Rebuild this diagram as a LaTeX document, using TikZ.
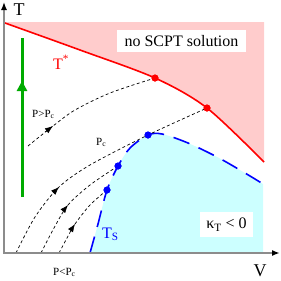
\documentclass[tikz,border=0pt]{standalone}
\usepackage{fontspec}
\setmainfont{Liberation Serif}
\usetikzlibrary{arrows.meta}
\definecolor{pinkfill}{rgb}{1,0.8,0.8}
\definecolor{cyanfill}{rgb}{0.8,1,1}
\definecolor{grn}{rgb}{0,0.67,0}
\definecolor{axisgray}{gray}{0.55}
\begin{document}
\begin{tikzpicture}[x=1pt,y=-1pt,
  axisline/.style={draw=axisgray, -{Latex[length=8pt,width=6pt,color=black]}},
  tstar/.style={draw=red, line width=1.6pt},
  tsline/.style={draw=blue, line width=1.6pt, dash pattern=on 17pt off 10pt},
  flow/.style={draw=black, line width=0.7pt, dash pattern=on 3pt off 2.5pt},
  flowtip/.style={draw=black, line width=0.6pt, -{Latex[length=8pt,width=6pt]}},
  reddot/.style={circle, fill=red, inner sep=0pt, minimum size=7pt},
  bluedot/.style={circle, fill=blue, inner sep=0pt, minimum size=7pt},
  lab/.style={inner sep=0pt, anchor=base west},
  boxlab/.style={fill=white, inner sep=0pt, font=\fontsize{16}{16}\selectfont}]
\useasboundingbox (0,0) rectangle (281,281);

% regions
\fill[pinkfill] (4,22) -- (264,22) -- (264,162)
  -- plot[smooth] coordinates {(264,162) (207,108) (155,78) (80,50) (5,23)} -- cycle;
\fill[cyanfill] plot[smooth] coordinates {(90,253) (98,224) (107,190) (118,166) (130,148) (148,135) (162,134) (188,143) (219,158) (250,176) (263,184)}
  -- (263,253) -- cycle;

% dots
\node[reddot] (r1) at (155,78) {};
\node[reddot] (r2) at (207,108) {};
\node[bluedot] (b1) at (107,190) {};
\node[bluedot] (b2) at (118,166) {};
\node[bluedot] (b3) at (148,135) {};

% curves
\draw[tstar] plot[smooth] coordinates {(5,23) (80,50) (155,78) (207,108) (264,162)};
\draw[tsline] plot[smooth] coordinates {(90,253) (98,224) (107,190) (118,166) (130,148) (148,135) (162,134) (188,143) (219,158) (250,176) (263,184)};

% dashed paths
\draw[flow] plot[smooth] coordinates {(28,146) (53,126) (75,110) (110,93) (r1.center)};
\draw[flow] plot[smooth] coordinates {(16,253) (35,217) (59,187) (90,165) (b3.center) (r2.center)};
\draw[flow] plot[smooth] coordinates {(41,253) (54,228) (68,205) (90,185) (b2.center)};
\draw[flow] plot[smooth] coordinates {(59,253) (67,238) (75,224) (90,205) (b1.center)};

% arrowheads on dashed paths
\coordinate (a1s) at (45,132); \coordinate (a1) at (53,126);
\coordinate (a2s) at (53,193); \coordinate (a2) at (59,187);
\coordinate (a3s) at (63,211); \coordinate (a3) at (68,205);
\coordinate (a4s) at (71,230); \coordinate (a4) at (75,224);
\draw[flowtip] (a1s) -- (a1);
\draw[flowtip] (a2s) -- (a2);
\draw[flowtip] (a3s) -- (a3);
\draw[flowtip] (a4s) -- (a4);

% green arrow
\coordinate (g0) at (22,197); \coordinate (g1) at (22,81); \coordinate (g2) at (22,38);
\draw[grn, line width=3pt, -{Triangle[length=10pt,width=10pt]}] (g0) -- (g1);
\draw[grn, line width=3pt] ([yshift=-9pt]g1) -- (g2);

% dots on top
\node[reddot] at (r1) {};
\node[reddot] at (r2) {};
\node[bluedot] at (b1) {};
\node[bluedot] at (b2) {};
\node[bluedot] at (b3) {};

% axes
\coordinate (O) at (4,253);
\coordinate (Ytop) at (4,2);
\coordinate (Xend) at (280,253);
\draw[axisline, line width=1.4pt] (O) -- (Ytop);
\draw[axisline, line width=1.8pt] ([xshift=-0.7pt]O) -- (Xend);

% labels
\node[font=\fontsize{18}{18}\selectfont] (Tlab) at (19,10) {T};
\node[font=\fontsize{18}{18}\selectfont] (Vlab) at (260,271) {V};
\node[boxlab, minimum width=129pt, minimum height=22pt] (nosol) at (181.5,41) {no SCPT solution};
\node[boxlab, minimum width=53pt, minimum height=25pt] (kappa) at (226.5,224.5) {κ\textsubscript{T} < 0};
\node[lab, text=red, font=\fontsize{16}{16}\selectfont] (Tstar) at (53,69) {T\textsuperscript{*}};
\node[lab, text=blue, font=\fontsize{16}{16}\selectfont] (TS) at (102,238) {T\textsubscript{S}};
\node[lab, font=\fontsize{11}{11}\selectfont] (pgt) at (32,117) {P>P\textsubscript{c}};
\node[lab, font=\fontsize{11}{11}\selectfont] (pc) at (96,145) {P\textsubscript{c}};
\node[lab, font=\fontsize{11}{11}\selectfont] (plt) at (53,275) {P<P\textsubscript{c}};
\end{tikzpicture}
\end{document}
